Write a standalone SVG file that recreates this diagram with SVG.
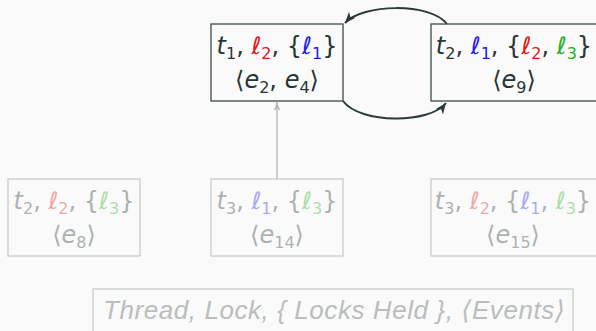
<svg xmlns="http://www.w3.org/2000/svg" width="596" height="331" viewBox="0 0 596 331">
  <defs>
    <marker id="head-dark" markerUnits="userSpaceOnUse" markerWidth="12" markerHeight="10" refX="11" refY="5" orient="auto">
      <path d="M0,0.5 L11,5 L0,9.5 L3,5 z" fill="#2b3a3a"/>
    </marker>
    <marker id="head-gray" markerUnits="userSpaceOnUse" markerWidth="10" markerHeight="8" refX="9" refY="4" orient="auto">
      <path d="M0,0.5 L9,4 L0,7.5 L2.5,4 z" fill="#b4baba"/>
    </marker>
    <style>
      .box { fill: none; stroke: #3d4b4b; stroke-width: 1.3; }
      .box-faded { fill: none; stroke: #c9cccc; stroke-width: 1.3; }
      .lbl { font-family: "DejaVu Sans", "Liberation Sans", sans-serif; font-size: 24px; fill: #263535; text-anchor: middle; }
      .it { font-style: italic; }
      .sub { font-size: 16px; font-style: normal; }
      .red { fill: #e01818; }
      .blue { fill: #1c1cf0; }
      .green { fill: #22b022; }
      .faded { opacity: 0.37; }
      .edge { fill: none; stroke: #2b3a3a; stroke-width: 2; }
      .edge-faded { fill: none; stroke: #b4baba; stroke-width: 1.4; }
      .legend { font-family: "Liberation Sans", "DejaVu Sans", sans-serif; font-size: 26px; font-style: italic; fill: #b9bdbd; text-anchor: middle; }
    </style>
  </defs>

  <rect x="0" y="0" width="596" height="331" fill="#fafafa"/>

  <!-- connectors -->
  <g id="connectors">
    <path class="edge" d="M447,24 C430,2 362,4 345,23" marker-end="url(#head-dark)"/>
    <path class="edge" d="M343,101 C360,124 430,124 446,103" marker-end="url(#head-dark)"/>
    <path class="edge-faded" d="M277,179 L277,102" marker-end="url(#head-gray)"/>
  </g>

  <!-- active states -->
  <g id="node-t1">
    <rect class="box" x="211" y="24" width="132" height="77"/>
    <text class="lbl" x="277" y="54"><tspan class="it">t</tspan><tspan class="sub" dy="5">1</tspan><tspan dy="-5">, </tspan><tspan class="it red">ℓ</tspan><tspan class="sub red" dy="5">2</tspan><tspan dy="-5">, {</tspan><tspan class="it blue">ℓ</tspan><tspan class="sub blue" dy="5">1</tspan><tspan dy="-5">}</tspan></text>
    <text class="lbl" x="277" y="88">⟨<tspan class="it">e</tspan><tspan class="sub" dy="5">2</tspan><tspan dy="-5">, </tspan><tspan class="it">e</tspan><tspan class="sub" dy="5">4</tspan><tspan dy="-5">⟩</tspan></text>
  </g>

  <g id="node-t2">
    <rect class="box" x="431" y="24" width="166" height="77"/>
    <text class="lbl" x="514" y="54"><tspan class="it">t</tspan><tspan class="sub" dy="5">2</tspan><tspan dy="-5">, </tspan><tspan class="it blue">ℓ</tspan><tspan class="sub blue" dy="5">1</tspan><tspan dy="-5">, {</tspan><tspan class="it red">ℓ</tspan><tspan class="sub red" dy="5">2</tspan><tspan dy="-5">, </tspan><tspan class="it green">ℓ</tspan><tspan class="sub green" dy="5">3</tspan><tspan dy="-5">}</tspan></text>
    <text class="lbl" x="514" y="88">⟨<tspan class="it">e</tspan><tspan class="sub" dy="5">9</tspan><tspan dy="-5">⟩</tspan></text>
  </g>

  <!-- faded states -->
  <g id="node-t2-e8">
    <rect class="box-faded" x="8" y="179" width="132" height="77"/>
    <g class="faded">
      <text class="lbl" x="74" y="209"><tspan class="it">t</tspan><tspan class="sub" dy="5">2</tspan><tspan dy="-5">, </tspan><tspan class="it red">ℓ</tspan><tspan class="sub red" dy="5">2</tspan><tspan dy="-5">, {</tspan><tspan class="it green">ℓ</tspan><tspan class="sub green" dy="5">3</tspan><tspan dy="-5">}</tspan></text>
      <text class="lbl" x="74" y="243">⟨<tspan class="it">e</tspan><tspan class="sub" dy="5">8</tspan><tspan dy="-5">⟩</tspan></text>
    </g>
  </g>

  <g id="node-t3-e14">
    <rect class="box-faded" x="211" y="179" width="132" height="77"/>
    <g class="faded">
      <text class="lbl" x="277" y="209"><tspan class="it">t</tspan><tspan class="sub" dy="5">3</tspan><tspan dy="-5">, </tspan><tspan class="it blue">ℓ</tspan><tspan class="sub blue" dy="5">1</tspan><tspan dy="-5">, {</tspan><tspan class="it green">ℓ</tspan><tspan class="sub green" dy="5">3</tspan><tspan dy="-5">}</tspan></text>
      <text class="lbl" x="277" y="243">⟨<tspan class="it">e</tspan><tspan class="sub" dy="5">14</tspan><tspan dy="-5">⟩</tspan></text>
    </g>
  </g>

  <g id="node-t3-e15">
    <rect class="box-faded" x="431" y="179" width="166" height="77"/>
    <g class="faded">
      <text class="lbl" x="513" y="209"><tspan class="it">t</tspan><tspan class="sub" dy="5">3</tspan><tspan dy="-5">, </tspan><tspan class="it red">ℓ</tspan><tspan class="sub red" dy="5">2</tspan><tspan dy="-5">, {</tspan><tspan class="it blue">ℓ</tspan><tspan class="sub blue" dy="5">1</tspan><tspan dy="-5">, </tspan><tspan class="it green">ℓ</tspan><tspan class="sub green" dy="5">3</tspan><tspan dy="-5">}</tspan></text>
      <text class="lbl" x="513" y="243">⟨<tspan class="it">e</tspan><tspan class="sub" dy="5">15</tspan><tspan dy="-5">⟩</tspan></text>
    </g>
  </g>

  <!-- legend -->
  <g id="legend">
    <rect class="box-faded" x="93" y="289" width="480" height="50"/>
    <text class="legend" x="334" y="319" textLength="462" lengthAdjust="spacing">Thread, Lock, { Locks Held }, ⟨Events⟩</text>
  </g>
</svg>
